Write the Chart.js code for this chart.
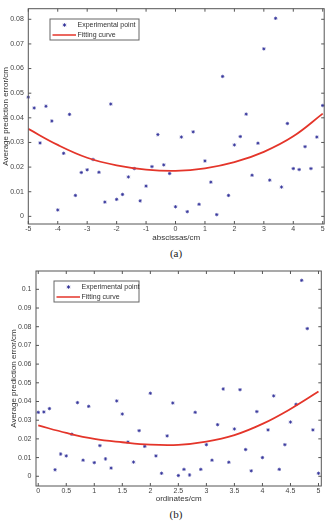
<!DOCTYPE html>
<html>
<head>
<meta charset="utf-8">
<script src="https://cdn.jsdelivr.net/npm/chart.js@4.4.0/dist/chart.umd.min.js"></script>
<style>
  html, body { margin: 0; padding: 0; background: #fff; }
  body { width: 329px; height: 522px; position: relative; overflow: hidden; }
  .box { position: absolute; left: 0; width: 329px; }
  #boxA { top: 0; height: 246px; }
  #boxB { top: 260px; height: 248px; }
  .cap { position: absolute; width: 40px; text-align: center; line-height: 12px;
         font-family: "Liberation Serif", "DejaVu Serif", serif; font-size: 11px; color: #222; }
</style>
</head>
<body>
<div class="box" id="boxA"><canvas id="chartA" width="329" height="246"></canvas></div>
<div class="box" id="boxB"><canvas id="chartB" width="329" height="248"></canvas></div>
<div class="cap" style="left:156px; top:247px;">(a)</div>
<div class="cap" style="left:156px; top:508px;">(b)</div>

<script>
// (a) abscissas
const xA = [-5, -4.8, -4.6, -4.4, -4.2, -4, -3.8, -3.6, -3.4, -3.2, -3, -2.8, -2.6, -2.4, -2.2, -2, -1.8, -1.6, -1.4, -1.2, -1,
            -0.8, -0.6, -0.4, -0.2, 0, 0.2, 0.4, 0.6, 0.8, 1, 1.2, 1.4, 1.6, 1.8, 2, 2.2, 2.4, 2.6, 2.8, 3,
            3.2, 3.4, 3.6, 3.8, 4, 4.2, 4.4, 4.6, 4.8, 5];
const errA = [0.0484, 0.0440, 0.0298, 0.0447, 0.0387, 0.0026, 0.0256, 0.0414, 0.0085, 0.0178, 0.0189,
              0.0231, 0.0179, 0.0058, 0.0456, 0.0069, 0.0089, 0.0160, 0.0194, 0.0063, 0.0123,
              0.0202, 0.0332, 0.0209, 0.0174, 0.0039, 0.0322, 0.0019, 0.0343, 0.0049, 0.0225,
              0.0139, 0.0007, 0.0568, 0.0085, 0.0290, 0.0324, 0.0415, 0.0167, 0.0297, 0.0680,
              0.0147, 0.0804, 0.0119, 0.0377, 0.0194, 0.0190, 0.0283, 0.0194, 0.0322, 0.0450];
const fitXA = [-5, -4, -3, -2, -1, 0, 1, 2, 3, 4, 5];
const fitA = [0.0355, 0.0290, 0.0238, 0.0207, 0.0190, 0.0185, 0.0195, 0.0220, 0.0262, 0.0325, 0.0417];

// (b) ordinates
const xB = [0, 0.1, 0.2, 0.3, 0.4, 0.5, 0.6, 0.7, 0.8, 0.9, 1, 1.1, 1.2, 1.3, 1.4, 1.5, 1.6, 1.7, 1.8, 1.9, 2,
            2.1, 2.2, 2.3, 2.4, 2.5, 2.6, 2.7, 2.8, 2.9, 3, 3.1, 3.2, 3.3, 3.4, 3.5, 3.6, 3.7, 3.8, 3.9, 4,
            4.1, 4.2, 4.3, 4.4, 4.5, 4.6, 4.7, 4.8, 4.9, 5];
const errB = [0.0342, 0.0344, 0.0362, 0.0035, 0.0119, 0.0109, 0.0225, 0.0394, 0.0086, 0.0374, 0.0073,
              0.0164, 0.0093, 0.0044, 0.0403, 0.0333, 0.0183, 0.0076, 0.0244, 0.0160, 0.0444,
              0.0109, 0.0016, 0.0216, 0.0392, 0.0004, 0.0037, 0.0007, 0.0342, 0.0037, 0.0169,
              0.0086, 0.0276, 0.0467, 0.0075, 0.0253, 0.0463, 0.0143, 0.0029, 0.0346, 0.0100,
              0.0248, 0.0430, 0.0037, 0.0169, 0.0290, 0.0385, 0.1048, 0.0790, 0.0248, 0.0016];
const fitXB = [0, 0.5, 1, 1.5, 2, 2.5, 3, 3.5, 4, 4.5, 5];
const fitB = [0.0272, 0.0232, 0.0200, 0.0182, 0.0169, 0.0168, 0.0185, 0.0220, 0.0280, 0.0360, 0.0453];

// ticks
const xTicksA = [-5, -4, -3, -2, -1, 0, 1, 2, 3, 4, 5];
const xLabelsA = ['-5', '-4', '-3', '-2', '-1', '0', '1', '2', '3', '4', '5'];
const yTicksA = [0, 0.01, 0.02, 0.03, 0.04, 0.05, 0.06, 0.07, 0.08];
const yLabelsA = ['0', '0.01', '0.02', '0.03', '0.04', '0.05', '0.06', '0.07', '0.08'];
const xTicksB = [0, 0.5, 1, 1.5, 2, 2.5, 3, 3.5, 4, 4.5, 5];
const xLabelsB = ['0', '0.5', '1', '1.5', '2', '2.5', '3', '3.5', '4', '4.5', '5'];
const yTicksB = [0, 0.01, 0.02, 0.03, 0.04, 0.05, 0.06, 0.07, 0.08, 0.09, 0.1];
const yLabelsB = ['0', '0.01', '0.02', '0.03', '0.04', '0.05', '0.06', '0.07', '0.08', '0.09', '0.1'];

const FONT = "'Liberation Sans', Arial, sans-serif";
const PT_COLOR = '#34349a';
const FIT_COLOR = '#e4352a';
const PT_R = 1.7;

// box round the axes, inward ticks on all four sides, and the boxed legend
const framePlugin = {
  id: 'frame',
  afterDatasetsDraw(chart, args, opts) {
    const { ctx, chartArea: a, scales: { x, y } } = chart;
    ctx.save();
    ctx.strokeStyle = '#555';
    ctx.lineWidth = 1;
    ctx.strokeRect(a.left, a.top, a.right - a.left, a.bottom - a.top);
    ctx.beginPath();
    x.ticks.forEach(t => {
      const px = x.getPixelForValue(t.value);
      ctx.moveTo(px, a.bottom); ctx.lineTo(px, a.bottom - 3);
      ctx.moveTo(px, a.top); ctx.lineTo(px, a.top + 3);
    });
    y.ticks.forEach(t => {
      const py = y.getPixelForValue(t.value);
      ctx.moveTo(a.left, py); ctx.lineTo(a.left + 3, py);
      ctx.moveTo(a.right, py); ctx.lineTo(a.right - 3, py);
    });
    ctx.stroke();

    // legend
    const L = opts.left, T = opts.top;
    const pts = chart.data.datasets[0], fit = chart.data.datasets[1];
    ctx.fillStyle = '#fff';
    ctx.fillRect(L, T, opts.width, opts.height);
    ctx.strokeStyle = '#666';
    ctx.strokeRect(L, T, opts.width, opts.height);
    ctx.strokeStyle = PT_COLOR;
    ctx.fillStyle = PT_COLOR;
    Chart.helpers.drawPoint(ctx, { pointStyle: 'star', radius: PT_R, borderWidth: 0.8 }, L + 14.5, T + 6);
    ctx.strokeStyle = FIT_COLOR;
    ctx.lineWidth = 1.5;
    ctx.beginPath();
    ctx.moveTo(L + 2.5, T + 16); ctx.lineTo(L + 26, T + 16);
    ctx.stroke();
    ctx.fillStyle = '#333';
    ctx.font = '7px ' + FONT;
    ctx.textBaseline = 'middle';
    ctx.textAlign = 'left';
    ctx.fillText(pts.label, L + 27.5, T + 6);
    ctx.fillText(fit.label, L + 27.5, T + 16);
    ctx.restore();
  }
};

function makeChart(id, c) {
  const tickFont = { family: FONT, size: 7 };
  const titleFont = { family: FONT, size: 8 };
  return new Chart(document.getElementById(id), {
    type: 'scatter',
    data: {
      datasets: [{
        label: 'Experimental point',
        data: c.xs.map((v, i) => ({ x: v, y: c.ys[i] })),
        pointStyle: 'star',
        pointRadius: PT_R,
        pointBorderWidth: 0.8,
        borderColor: PT_COLOR,
        backgroundColor: PT_COLOR,
        showLine: false,
        clip: false,
        order: 1
      }, {
        label: 'Fitting curve',
        data: c.fitX.map((v, i) => ({ x: v, y: c.fit[i] })),
        showLine: true,
        pointRadius: 0,
        borderColor: FIT_COLOR,
        borderWidth: 1.8,
        tension: 0.4,
        order: 0
      }]
    },
    options: {
      responsive: false,
      animation: false,
      layout: { padding: c.pad },
      plugins: {
        legend: { display: false },
        tooltip: { enabled: false },
        frame: c.legend
      },
      scales: {
        x: {
          type: 'linear',
          min: c.xMin, max: c.xMax,
          afterBuildTicks: s => { s.ticks = c.xTicks.map(v => ({ value: v })); },
          afterFit: s => { s.height = c.xH; },
          ticks: {
            callback: (v, i) => c.xLabels[i],
            font: tickFont, color: '#444', padding: 0.5,
            maxRotation: 0, autoSkip: false
          },
          grid: { display: false, drawTicks: false },
          border: { display: false },
          title: { display: true, text: c.xTitle, font: titleFont, color: '#333',
                   padding: { top: 0, bottom: c.xTitlePad } }
        },
        y: {
          type: 'linear',
          min: c.yMin, max: c.yMax,
          afterBuildTicks: s => { s.ticks = c.yTicks.map(v => ({ value: v })); },
          afterFit: s => { s.width = c.yW; },
          ticks: {
            callback: (v, i) => c.yLabels[i],
            font: tickFont, color: '#444', padding: 4.5, autoSkip: false
          },
          grid: { display: false, drawTicks: false },
          border: { display: false },
          title: { display: true, text: 'Average prediction error/cm', font: titleFont, color: '#333',
                   padding: { top: c.yTitlePad, bottom: 0 } }
        }
      }
    },
    plugins: [framePlugin]
  });
}

makeChart('chartA', {
  xs: xA, ys: errA, fitX: fitXA, fit: fitA,
  xMin: -5, xMax: 5.05, yMin: -0.0031, yMax: 0.0843,
  xTicks: xTicksA, xLabels: xLabelsA, yTicks: yTicksA, yLabels: yLabelsA,
  xTitle: 'abscissas/cm',
  pad: { left: 0, top: 8, right: 4.3, bottom: 0 },
  xH: 22, yW: 28.3, xTitlePad: 3, yTitlePad: 0.5,
  legend: { left: 50, top: 19, width: 89, height: 21 }
});

makeChart('chartB', {
  xs: xB, ys: errB, fitX: fitXB, fit: fitB,
  xMin: -0.04, xMax: 5.05, yMin: -0.0052, yMax: 0.1098,
  xTicks: xTicksB, xLabels: xLabelsB, yTicks: yTicksB, yLabels: yLabelsB,
  xTitle: 'ordinates/cm',
  pad: { left: 0, top: 11, right: 7.7, bottom: 0 },
  xH: 22, yW: 36, xTitlePad: 4.8, yTitlePad: 8.5,
  legend: { left: 54, top: 21, width: 85, height: 21 }
});
</script>
</body>
</html>
